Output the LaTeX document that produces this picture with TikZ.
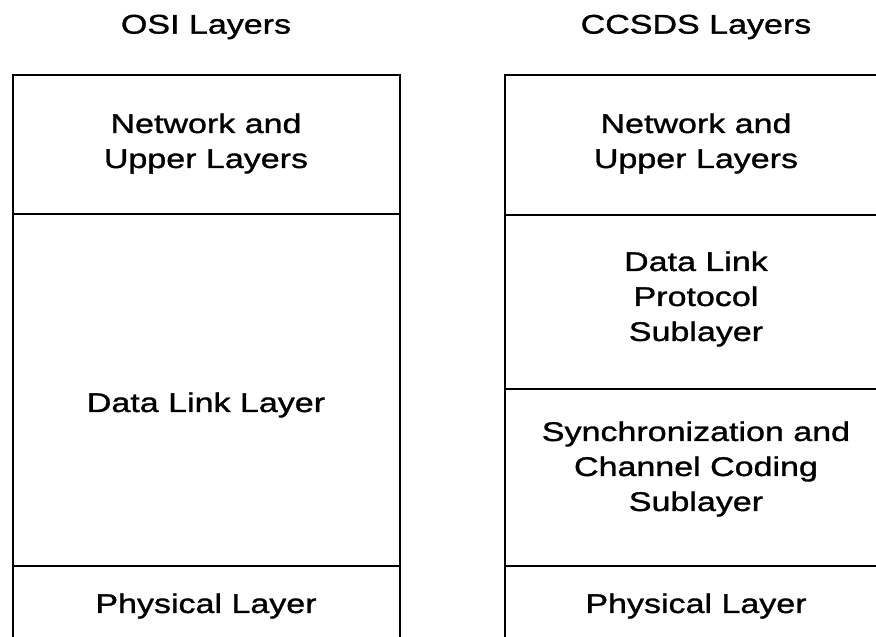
\documentclass[tikz,border=0pt]{standalone}
\usepackage{fontspec}
\newfontfamily\lyrfont[FakeStretch=1.26,FakeBold=1.2]{Liberation Sans}
\begin{document}
\begin{tikzpicture}[x=1pt,y=-1pt,
  lbl/.style={align=center, inner sep=0pt, font=\lyrfont\fontsize{27}{35}\selectfont},
  rule/.style={line width=1.6pt, black}]
\useasboundingbox (0,0) rectangle (876,637);
\clip (0,0) rectangle (876,637);
% headings
\node[lbl] (osih) at (206,27) {OSI Layers};
\node[lbl] (ccsh) at (696,27) {CCSDS Layers};
% left stack
\draw[rule] (13,650) -- (13,75) -- (400,75) -- (400,650);
\draw[rule] (13,214) -- (400,214);
\draw[rule] (13,566) -- (400,566);
% right stack
\draw[rule] (505,650) -- (505,75) -- (890,75);
\draw[rule] (505,215) -- (890,215);
\draw[rule] (505,389) -- (890,389);
\draw[rule] (505,566) -- (890,566);
% left texts
\node[lbl] (lnet) at (206,143.5) {Network and\\Upper Layers};
\node[lbl] (ldl) at (206,405) {Data Link Layer};
\node[lbl] (lphy) at (206,606) {Physical Layer};
% right texts
\node[lbl] (rnet) at (696,143.5) {Network and\\Upper Layers};
\node[lbl] (rdl) at (696,299) {Data Link\\Protocol\\Sublayer};
\node[lbl] (rsync) at (696,469) {Synchronization and\\Channel Coding\\Sublayer};
\node[lbl] (rphy) at (696,606) {Physical Layer};
\end{tikzpicture}
\end{document}
